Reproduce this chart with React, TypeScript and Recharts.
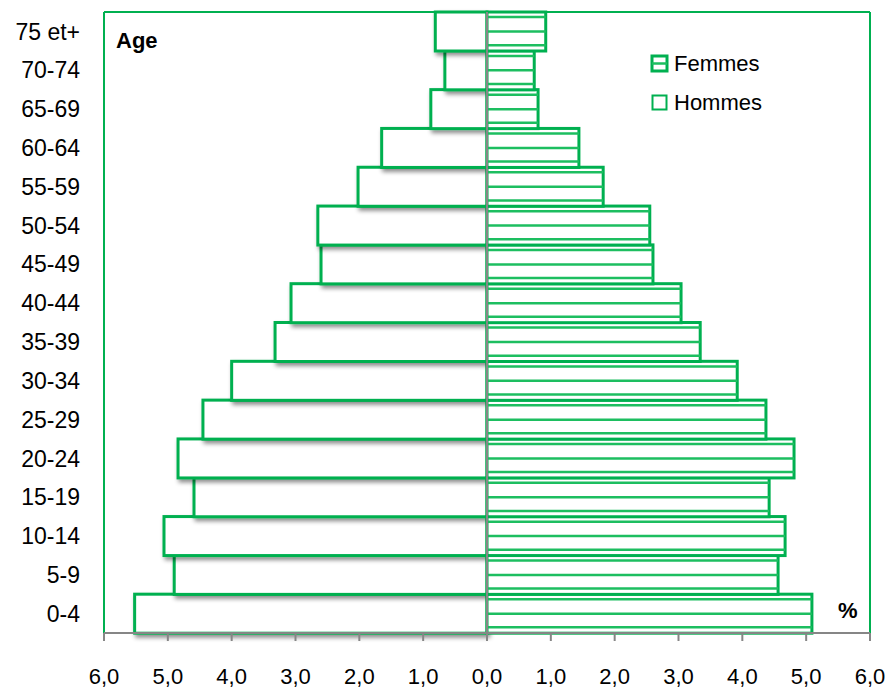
import React from "react";
import { BarChart, Bar, XAxis, YAxis, CartesianGrid, ReferenceLine, Legend } from "recharts";

const ageGroups = ["0-4", "5-9", "10-14", "15-19", "20-24", "25-29", "30-34", "35-39", "40-44", "45-49", "50-54", "55-59", "60-64", "65-69", "70-74", "75 et+"];
const hommes = [5.52, 4.9, 5.06, 4.59, 4.84, 4.45, 4.0, 3.32, 3.07, 2.6, 2.65, 2.02, 1.65, 0.88, 0.66, 0.81];
const femmes = [5.09, 4.56, 4.67, 4.42, 4.81, 4.37, 3.92, 3.34, 3.04, 2.6, 2.55, 1.82, 1.44, 0.8, 0.74, 0.92];
const xTicks = [-6, -5, -4, -3, -2, -1, 0, 1, 2, 3, 4, 5, 6];

const GREEN = "#00B050";
const STRIPE = "#1DBE60";
const GRAY = "#868686";
const FONT = "'Liberation Sans', Arial, sans-serif";

// hommes on the left, so negative
const data = ageGroups.map((age, i) => ({ age, Hommes: -hommes[i], Femmes: femmes[i] }));

const fmt = (v: number) => Math.abs(v).toFixed(1).replace(".", ",");

const HommesShape = (p: any) => {
  const { x, y, width, height } = p;
  const x0 = Math.min(x, x + width);
  const w = Math.abs(width);
  if (!w) return null;
  return (
    <rect x={x0} y={y} width={w} height={height} fill="#fff" stroke={GREEN} strokeWidth={3} filter="url(#barShadow)" />
  );
};

const FemmesShape = (p: any) => {
  const { x, y, width, height } = p;
  const x0 = Math.min(x, x + width);
  const w = Math.abs(width);
  if (!w) return null;
  const stripes = [0.13, 0.5, 0.85];
  return (
    <g>
      <rect x={x0} y={y} width={w} height={height} fill="#fff" stroke={GREEN} strokeWidth={3} />
      {stripes.map((f) => (
        <line key={f} x1={x0} x2={x0 + w} y1={y + height * f} y2={y + height * f} stroke={STRIPE} strokeWidth={2.5} />
      ))}
    </g>
  );
};

const legendOrder = ["Femmes", "Hommes"];

const LegendBox = () => (
  <div style={{ fontFamily: FONT, fontSize: 22, color: "#000" }}>
    {legendOrder.map((name) => (
      <div key={name} style={{ display: "flex", alignItems: "center", height: 39 }}>
        <svg width={20} height={20} style={{ marginRight: 4 }}>
          {name === "Femmes" ? (
            <g>
              <rect x={2} y={2} width={15} height={15} fill="#fff" stroke={GREEN} strokeWidth={3} />
              <line x1={2} x2={17} y1={9.5} y2={9.5} stroke={STRIPE} strokeWidth={2.5} />
            </g>
          ) : (
            <rect x={2.5} y={2.5} width={14} height={14} fill="#fff" stroke={GREEN} strokeWidth={2} />
          )}
        </svg>
        <span>{name}</span>
      </div>
    ))}
  </div>
);

export default function App() {
  return (
    <div style={{ position: "absolute", left: 0, top: 0, width: 889, height: 688, background: "#fff", fontFamily: FONT }}>
      <svg width={0} height={0} style={{ position: "absolute" }}>
        <defs>
          <filter id="barShadow" x="-10%" y="-20%" width="130%" height="160%">
            <feDropShadow dx={2} dy={3} stdDeviation={2} floodColor="#000" floodOpacity={0.45} />
          </filter>
        </defs>
      </svg>
      <BarChart
        width={889}
        height={688}
        data={data}
        layout="vertical"
        stackOffset="sign"
        barCategoryGap={0}
        margin={{ top: 12, right: 19, bottom: 0, left: 0 }}
      >
        <CartesianGrid
          stroke={GREEN}
          strokeWidth={2}
          horizontalCoordinatesGenerator={({ offset }: any) => [offset.top]}
          verticalCoordinatesGenerator={({ offset }: any) => [offset.left, offset.left + offset.width]}
        />
        <XAxis
          type="number"
          domain={[-6, 6]}
          ticks={xTicks}
          interval={0}
          tickFormatter={fmt}
          height={55}
          stroke={GRAY}
          strokeWidth={2}
          tickSize={8}
          tickMargin={27}
          tick={{ fill: "#000", fontSize: 22, fontFamily: FONT }}
        />
        <YAxis
          type="category"
          dataKey="age"
          reversed
          width={104}
          interval={0}
          axisLine={false}
          tickLine={false}
          tickSize={0}
          tickMargin={24}
          tick={{ fill: "#000", fontSize: 23, fontFamily: FONT }}
        />
        <Bar dataKey="Hommes" stackId="p" shape={HommesShape} isAnimationActive={false} />
        <Bar dataKey="Femmes" stackId="p" shape={FemmesShape} isAnimationActive={false} />
        <ReferenceLine x={0} stroke={GRAY} strokeWidth={2} />
        <Legend
          layout="horizontal"
          verticalAlign="middle"
          align="center"
          content={() => <LegendBox />}
          wrapperStyle={{ left: 650, top: 44, width: 160, height: 80 }}
        />
      </BarChart>
      <svg width={889} height={688} style={{ position: "absolute", left: 0, top: 0, pointerEvents: "none" }}>
        <text x={116} y={48} fontSize={22} fontWeight="bold" fontFamily={FONT} fill="#000">Age</text>
        <text x={838} y={618} fontSize={22} fontWeight="bold" fontFamily={FONT} fill="#000">%</text>
      </svg>
    </div>
  );
}
